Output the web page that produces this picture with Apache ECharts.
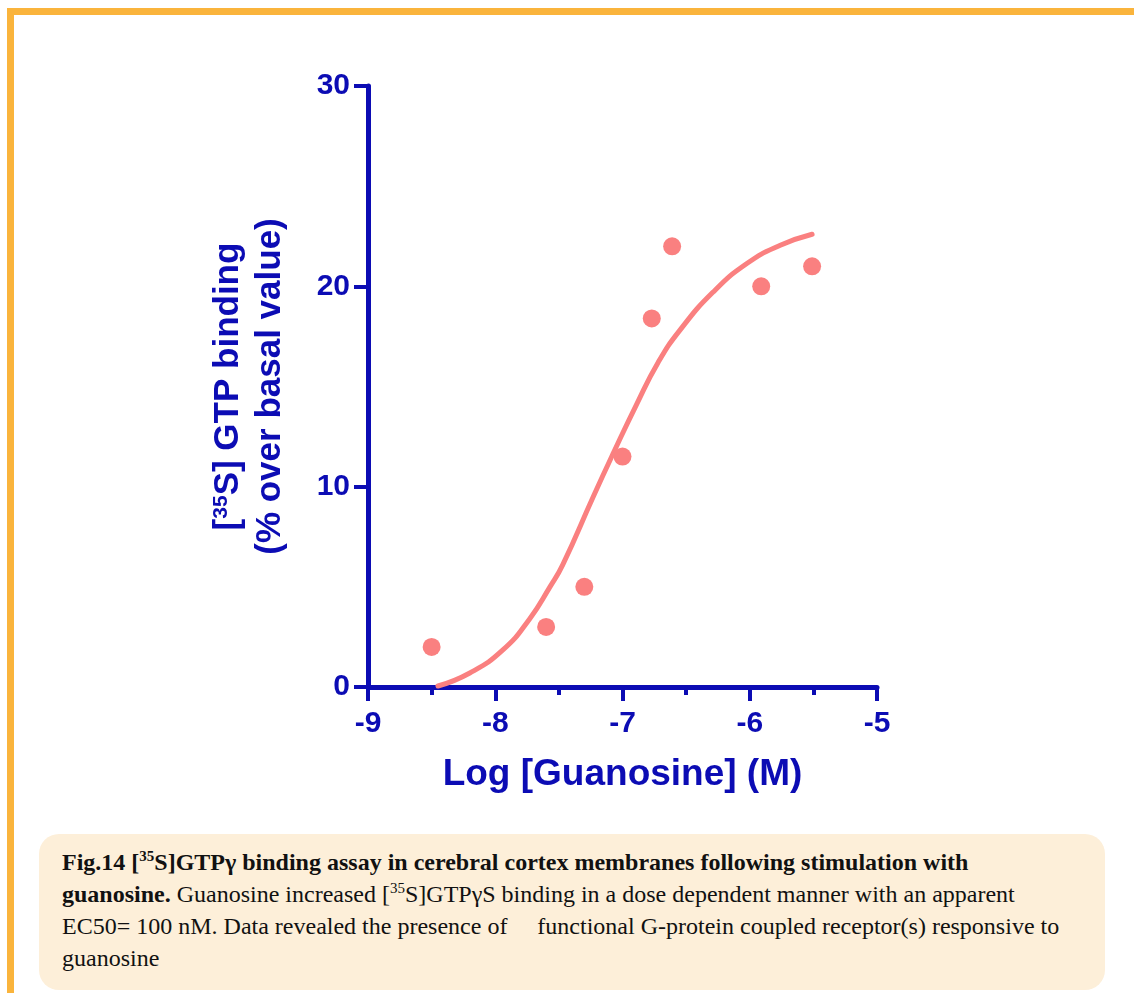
<!DOCTYPE html>
<html>
<head>
<meta charset="utf-8">
<script src="https://cdn.jsdelivr.net/npm/echarts@6/dist/echarts.min.js"></script>
<style>
  html, body { margin: 0; padding: 0; background: #fff; }
  .page { position: relative; width: 1134px; height: 993px; overflow: hidden; }
  .frame {
    position: absolute; left: 7px; top: 8px; right: 0; bottom: 0;
    border-top: 7px solid #fab43c; border-left: 7px solid #fab43c;
  }
  #chart { position: absolute; left: 0; top: 0; width: 1134px; height: 830px; }
  .caption {
    position: absolute; left: 39px; top: 834px; width: 1066px; height: 156px;
    background: #fdefd9; border-radius: 20px; box-sizing: border-box;
    padding: 12px 0 0 23px;
    font-family: "Liberation Serif", "Times New Roman", serif;
    font-size: 24px; line-height: 32px; color: #111;
  }
  .caption sup { font-size: 15px; line-height: 0; }
</style>
</head>
<body>
<div class="page">
  <div id="chart"></div>
  <div class="caption">
    <b>Fig.14 [<sup>35</sup>S]GTPγ binding assay in cerebral cortex membranes following stimulation with<br>guanosine.</b> Guanosine increased [<sup>35</sup>S]GTPγS binding in a dose dependent manner with an apparent<br>EC50= 100 nM. Data revealed the presence of &nbsp;&nbsp;&nbsp; functional G-protein coupled receptor(s) responsive to<br>guanosine
  </div>
  <div class="frame"></div>
</div>
<script>
// measured points, log dose vs % over basal
const doseLog = [-8.5, -7.6, -7.3, -7.0, -6.77, -6.61, -5.91, -5.51];
const binding = [2.0, 3.0, 5.0, 11.5, 18.4, 22.0, 20.0, 21.0];

// fitted curve
const fitLog = [-8.45, -8.2, -7.94, -7.73, -7.57, -7.47, -7.23, -7.07, -6.89, -6.72, -6.55, -6.29, -6.02, -5.76, -5.51];
const fitValue = [0.05, 0.7, 1.85, 3.4, 5.0, 6.1, 9.5, 11.7, 14.1, 16.2, 17.8, 19.7, 21.15, 22.05, 22.6];

const blue = "#0c0cb4";
const pink = "#fa8080";
const font = "Liberation Sans, Arial, sans-serif";

var chart = echarts.init(document.getElementById("chart"));
var option = {
  animation: false,
  grid: {
    left: 368,
    top: 86,
    width: 509,
    height: 601,
    containLabel: false,
    outerBoundsMode: "none",
  },
  xAxis: {
    type: "value",
    min: -9,
    max: -5,
    interval: 1,
    name: "Log [Guanosine] (M)",
    nameLocation: "middle",
    nameGap: 69,
    nameTextStyle: { color: blue, fontSize: 37, fontWeight: "bold", fontFamily: font },
    splitLine: { show: false },
    axisLine: { onZero: false, lineStyle: { color: blue, width: 5 } },
    axisTick: { inside: false, length: 14, lineStyle: { color: blue, width: 4 } },
    minorTick: { show: true, splitNumber: 2, length: 8, lineStyle: { color: blue, width: 4 } },
    axisLabel: {
      color: blue,
      fontSize: 30,
      fontWeight: "bold",
      fontFamily: font,
      margin: 22,
    },
  },
  yAxis: {
    type: "value",
    min: 0,
    max: 30,
    interval: 10,
    name: "{a|[}{sup|35}{a|S] GTP binding}\n{a|(% over basal value)}",
    nameLocation: "middle",
    nameRotate: 90,
    nameGap: 77,
    nameTextStyle: {
      rich: {
        a: { color: blue, fontSize: 35, fontWeight: "bold", fontFamily: font, lineHeight: 42 },
        sup: { color: blue, fontSize: 21, fontWeight: "bold", fontFamily: font, lineHeight: 42, verticalAlign: "top", padding: [4, 0, 0, 0] },
      },
    },
    splitLine: { show: false },
    axisLine: { onZero: false, lineStyle: { color: blue, width: 5 } },
    axisTick: { inside: false, length: 14, lineStyle: { color: blue, width: 4 } },
    axisLabel: {
      color: blue,
      fontSize: 30,
      fontWeight: "bold",
      fontFamily: font,
      margin: 18,
    },
  },
  series: [
    {
      name: "fit",
      type: "line",
      data: fitLog.map(function (x, i) {
        return [x, fitValue[i]];
      }),
      smooth: true,
      showSymbol: false,
      lineStyle: { color: pink, width: 5, cap: "round" },
      z: 2,
    },
    {
      name: "data",
      type: "scatter",
      data: doseLog.map(function (x, i) {
        return [x, binding[i]];
      }),
      symbolSize: 18,
      itemStyle: { color: pink, opacity: 1 },
      z: 3,
    },
  ],
};
chart.setOption(option);
</script>
</body>
</html>
